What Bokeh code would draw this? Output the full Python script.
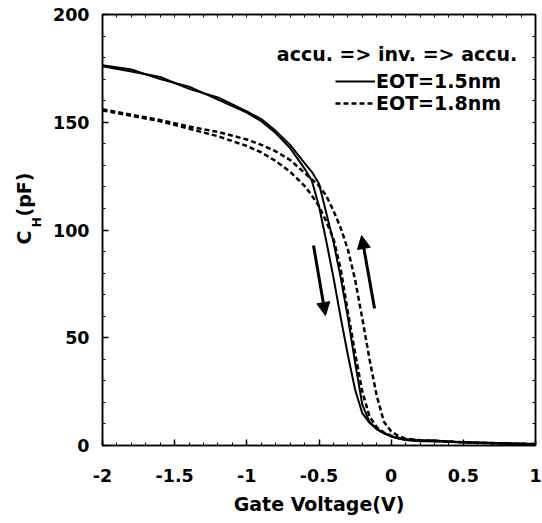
import math
from bokeh.plotting import figure
from bokeh.layouts import row
from bokeh.models import (Range1d, LinearAxis, FixedTicker, Label,
                          Legend, LegendItem, Arrow, NormalHead, ColumnDataSource)
from bokeh.embed import file_html
from bokeh.resources import INLINE

# ---------------- data ----------------
gate_voltage = [-2.0, -1.8, -1.6, -1.4, -1.2, -1.0, -0.9, -0.8, -0.7, -0.6, -0.55,
                -0.5, -0.45, -0.4, -0.35, -0.3, -0.25, -0.2, -0.15, -0.1, -0.05,
                0.0, 0.05, 0.1, 0.2, 0.3, 0.4, 0.5, 0.6, 0.7, 0.8, 0.9, 1.0]

# EOT = 1.5 nm, accumulation -> inversion sweep (left branch)
c_15_fwd = [176.5, 174.5, 170.0, 166.5, 160.5, 154.5, 150.5, 145.0, 138.0, 128.5, 123.0,
            111.0, 95.0, 78.0, 59.5, 42.0, 26.0, 15.0, 10.5, 7.5, 5.6,
            4.2, 3.2, 2.5, 2.2, 2.4, 1.7, 1.6, 1.2, 1.3, 0.9, 0.8, 0.6]
# EOT = 1.5 nm, inversion -> accumulation sweep (right branch)
c_15_rev = [176.0, 173.5, 171.0, 165.5, 161.5, 155.0, 151.5, 146.0, 139.5, 131.0, 127.0,
            121.5, 108.0, 94.5, 78.0, 59.5, 38.5, 19.0, 11.0, 7.8, 5.8,
            4.3, 3.3, 2.6, 2.0, 2.1, 1.9, 1.4, 1.4, 1.0, 1.0, 0.7, 0.6]
# EOT = 1.8 nm, accumulation -> inversion sweep (left branch)
c_18_fwd = [155.5, 153.0, 150.5, 147.0, 143.5, 139.0, 136.0, 132.0, 127.0, 120.5, 116.0,
            111.0, 104.0, 96.0, 82.0, 62.0, 43.0, 25.0, 13.5, 8.5, 6.0,
            4.6, 3.6, 2.9, 2.4, 2.0, 1.8, 1.5, 1.3, 1.1, 0.9, 0.8, 0.7]
# EOT = 1.8 nm, inversion -> accumulation sweep (right branch)
c_18_rev = [156.0, 153.5, 151.0, 148.0, 145.5, 142.0, 139.5, 136.5, 132.5, 126.5, 123.5,
            120.5, 116.0, 109.0, 101.0, 91.0, 77.0, 59.0, 40.0, 23.0, 11.0,
            6.5, 4.5, 3.2, 2.4, 2.1, 1.8, 1.5, 1.3, 1.1, 0.9, 0.8, 0.7]

x_tick_labels = {-2: "-2", -1.5: "-1.5", -1: "-1", -0.5: "-0.5", 0: "0", 0.5: "0.5", 1: "1"}
y_tick_labels = {0: "0", 50: "50", 100: "100", 150: "150", 200: "200"}

# sweep direction arrows: (V, C) start and end
arrow_down_start = (-0.538, 92.8)
arrow_down_end = (-0.455, 60.3)
arrow_up_start = (-0.115, 63.6)
arrow_up_end = (-0.205, 97.4)

FONT = "DejaVu Sans"
X0, X1, Y0, Y1 = -2, 1, 0, 200

src = ColumnDataSource(dict(v=gate_voltage, a=c_15_fwd, b=c_15_rev,
                            c=c_18_fwd, d=c_18_rev))

LEFT_W = 46
H = 523
p = figure(width=542 - LEFT_W, height=H, x_range=Range1d(X0, X1), y_range=Range1d(Y0, Y1),
           output_backend="svg", toolbar_location=None,
           min_border_left=102 - LEFT_W, min_border_right=7, min_border_top=14,
           min_border_bottom=78, background_fill_color="white",
           border_fill_color="white")
p.xgrid.visible = False
p.ygrid.visible = False
p.outline_line_color = "black"
p.outline_line_width = 1.5

def style_axis(ax):
    ax.axis_line_color = "black"
    ax.axis_line_width = 1.5
    ax.major_tick_in = 6
    ax.major_tick_out = 0
    ax.minor_tick_in = 3
    ax.minor_tick_out = 0
    ax.major_tick_line_color = "black"
    ax.minor_tick_line_color = "black"
    ax.major_tick_line_width = 1.5
    ax.minor_tick_line_width = 1
    ax.major_label_text_font = FONT
    ax.major_label_text_font_style = "bold"
    ax.major_label_text_font_size = "17.5px"
    ax.major_label_text_color = "black"

x_minor = [round(X0 + 0.1 * i, 2) for i in range(31)]
y_minor = [10 * i for i in range(21)]

xa = p.xaxis[0]
xa.ticker = FixedTicker(ticks=list(x_tick_labels.keys()), minor_ticks=x_minor)
style_axis(xa)
xa.major_label_overrides = x_tick_labels
xa.major_label_standoff = 23
xa.axis_label = "Gate Voltage(V)"
xa.axis_label_text_font = FONT
xa.axis_label_text_font_style = "bold"
xa.axis_label_text_font_size = "19px"
xa.axis_label_text_color = "black"
xa.axis_label_standoff = 8

ya = p.yaxis[0]
ya.ticker = FixedTicker(ticks=list(y_tick_labels.keys()), minor_ticks=y_minor)
style_axis(ya)
ya.major_label_overrides = y_tick_labels
ya.major_label_standoff = 13

# top and right frame ticks (no labels)
top = LinearAxis(ticker=FixedTicker(ticks=[], minor_ticks=x_minor))
style_axis(top)
top.major_label_standoff = 0
p.add_layout(top, "above")
right = LinearAxis(ticker=FixedTicker(ticks=[], minor_ticks=y_minor))
style_axis(right)
right.major_label_standoff = 0
p.add_layout(right, "right")

rA = p.line("v", "a", source=src, line_color="black", line_width=2)
rB = p.line("v", "b", source=src, line_color="black", line_width=2)
rC = p.line("v", "c", source=src, line_color="black", line_width=2.5, line_dash="5 3")
rD = p.line("v", "d", source=src, line_color="black", line_width=2.5, line_dash="5 3")

for (s, e) in [(arrow_down_start, arrow_down_end), (arrow_up_start, arrow_up_end)]:
    p.add_layout(Arrow(end=NormalHead(size=13, fill_color="black", line_color="black"),
                       x_start=s[0], y_start=s[1], x_end=e[0], y_end=e[1],
                       line_color="black", line_width=3))

def make_legend(label, r, loc):
    return Legend(items=[LegendItem(label=label, renderers=[r])],
                  location=loc, label_text_font=FONT, label_text_font_style="bold",
                  label_text_font_size="19px", label_text_color="black",
                  glyph_width=40, glyph_height=18, label_height=18, label_standoff=1,
                  spacing=0, padding=0, margin=0, border_line_alpha=0,
                  background_fill_alpha=0)

p.add_layout(make_legend("EOT=1.5nm", rA, (233, 353)))
p.add_layout(make_legend("EOT=1.8nm", rC, (233, 331)))

p.add_layout(Label(x=0.0405, y=181.7, text="accu. => inv. => accu.", text_align="center",
                   text_baseline="middle", text_font=FONT, text_font_style="bold",
                   text_font_size="19px", text_color="black"))

# ---- narrow left panel holding the rotated y-axis title C_H(pF) ----
lp = figure(width=LEFT_W, height=H, x_range=Range1d(0, LEFT_W), y_range=Range1d(0, H),
            output_backend="svg", toolbar_location=None, x_axis_type=None, y_axis_type=None,
            min_border_left=0, min_border_right=0, min_border_top=0, min_border_bottom=0,
            background_fill_color="white", border_fill_color="white")
lp.outline_line_color = None
lp.xgrid.visible = False
lp.ygrid.visible = False

def ylab(text, cx, cy_from_top, size):
    lp.add_layout(Label(x=cx, y=H - cy_from_top, text=text, angle=math.pi / 2,
                        text_align="center", text_baseline="middle", text_font=FONT,
                        text_font_style="bold", text_font_size=size, text_color="black"))

ylab("C", 23.5, 270.5, "19px")
ylab("H", 36, 252, "12.5px")
ylab("(pF)", 23.5, 218.5, "19px")

layout = row(lp, p, spacing=0)
open("out.html", "w").write(file_html(layout, INLINE))
